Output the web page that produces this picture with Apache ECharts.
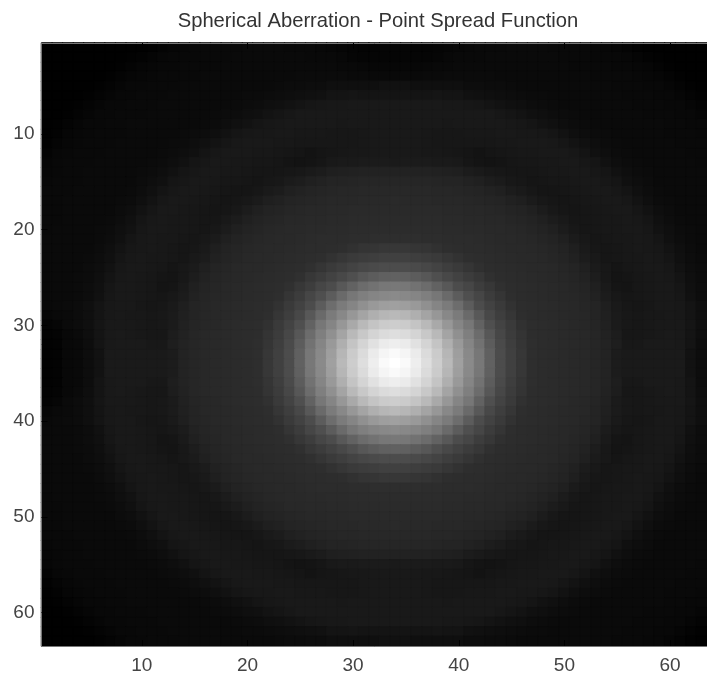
<!DOCTYPE html>
<html><head><meta charset="utf-8">
<style>html,body{margin:0;padding:0;background:#fff;overflow:hidden}#c{width:707px;height:684px}</style>
<script src="https://cdn.jsdelivr.net/npm/echarts@6/dist/echarts.min.js"></script>
</head><body><div id="c"></div>
<script>
const titleText = 'Spherical Aberration - Point Spread Function';
const tickValues = [10,20,30,40,50,60];
const cells = [1,2,3,4,5,6,7,8,9,10,11,12,13,14,15,16,17,18,19,20,21,22,23,24,25,26,27,28,29,30,31,32,33,34,35,36,37,38,39,40,41,42,43,44,45,46,47,48,49,50,51,52,53,54,55,56,57,58,59,60,61,62,63];
const peakCell = 34;
// Brightness, by cell offset from the peak (row = rows away, column = columns away)
const brightness = [
[255,250,238,222,205,185,160,138,120,97,76,64,55,46,44,43,42,41,40,38,35,28,26,26,26,26,26,26,18,13,9,8,3,2],
[250,245,235,219,203,182,158,137,119,96,76,64,55,46,44,43,42,41,40,38,35,28,26,26,26,26,26,26,18,13,9,8,3,2],
[238,235,225,212,196,175,153,133,114,92,74,62,53,46,44,43,42,41,40,38,35,30,24,24,26,26,26,25,20,13,9,8,3,2],
[222,219,212,200,185,164,144,127,108,87,71,60,52,45,44,43,42,41,40,38,34,29,23,23,24,25,26,25,20,14,10,8,4,3],
[205,203,196,185,169,151,133,119,98,79,67,58,49,45,44,43,42,40,39,37,33,27,24,23,24,25,25,25,21,15,12,10,6,4],
[185,182,175,164,151,136,123,106,88,72,62,54,46,44,43,42,41,40,39,36,32,27,24,23,24,24,25,24,20,15,12,10,9,7],
[160,158,153,144,133,123,109,92,76,66,58,50,45,44,43,42,41,40,38,36,31,26,23,22,23,25,25,24,20,15,12,11,10,9],
[138,136,133,127,119,106,92,79,70,60,53,46,44,43,42,41,40,39,37,34,28,24,22,23,24,25,25,23,17,13,11,10,10,10],
[120,119,114,108,98,88,76,70,61,55,48,45,44,43,42,41,40,38,36,32,26,21,20,23,24,25,25,22,16,13,11,10,10,10],
[97,96,92,87,79,72,66,60,55,48,45,44,43,42,41,40,39,37,34,29,24,20,21,23,24,25,24,20,15,12,11,10,10,10],
[76,76,74,71,67,62,58,53,48,45,44,43,42,41,41,40,38,36,32,27,24,21,23,24,25,25,23,18,14,12,10,10,10,10],
[64,64,62,60,58,54,50,46,45,44,43,42,41,41,40,38,36,33,28,25,22,23,24,24,25,24,21,16,13,11,10,10,10,10],
[55,55,53,52,49,46,45,44,44,43,42,41,41,40,39,37,35,31,26,23,22,23,24,25,24,23,19,15,12,10,10,10,10,10],
[46,46,46,45,45,44,44,44,43,42,41,41,40,39,37,35,32,27,24,22,23,24,24,25,24,21,16,13,11,10,10,10,10,10],
[44,44,44,44,44,43,43,42,42,41,41,40,39,37,35,32,28,24,22,23,24,24,25,25,23,18,15,12,11,10,10,10,10,9],
[43,43,43,43,43,42,42,41,41,40,40,38,37,35,32,28,25,22,22,23,24,24,25,24,21,16,13,11,10,10,10,10,9,9],
[42,42,42,42,42,41,41,40,40,39,38,36,35,32,28,24,22,21,22,23,24,25,25,22,18,14,12,10,10,10,10,10,9,9],
[42,41,41,41,40,40,40,39,38,37,36,33,31,27,24,22,21,22,23,24,25,25,23,19,15,12,11,10,10,10,10,10,9,9],
[40,40,40,40,39,39,38,37,36,34,32,28,26,23,21,21,22,23,24,25,25,23,20,16,13,11,10,10,10,10,10,9,9,9],
[38,38,38,38,37,36,36,34,32,29,27,24,23,21,22,23,23,24,25,25,23,21,16,14,12,10,10,10,10,10,9,9,9,8],
[34,34,34,34,33,32,31,28,26,24,23,22,22,22,23,24,24,25,25,23,21,17,14,12,11,10,10,10,10,10,9,9,8,7],
[26,27,27,27,26,26,25,22,20,19,20,22,23,23,24,24,25,25,23,21,17,14,12,11,10,10,10,10,10,9,9,9,8,6],
[25,25,25,24,24,23,22,21,19,21,22,23,24,24,25,25,25,23,20,16,14,12,11,10,10,10,10,10,9,9,9,8,7,4],
[25,25,25,24,23,23,23,23,23,23,24,24,25,25,25,24,22,19,16,14,12,11,10,10,10,10,10,9,9,9,8,7,5,2],
[25,25,25,24,23,23,23,24,24,24,25,25,24,24,23,21,18,15,13,12,11,10,10,10,10,10,9,9,9,8,7,6,3,1],
[25,25,25,25,25,24,25,25,25,25,25,24,23,21,18,16,14,12,11,10,10,10,10,10,10,10,9,9,8,8,6,4,2,1],
[25,25,25,25,25,25,25,25,25,25,23,21,19,16,15,13,12,11,10,10,10,10,10,10,9,9,9,8,8,6,4,2,1,1],
[25,25,25,25,25,24,24,23,22,20,18,16,15,13,12,11,10,10,10,10,10,10,10,9,9,9,8,8,6,4,2,1,1,1],
[20,20,20,20,21,20,20,17,16,15,14,13,12,11,11,10,10,10,10,10,10,10,9,9,9,8,8,6,4,2,1,1,1,1],
[17,17,15,15,15,15,15,13,13,12,12,11,10,10,10,10,10,10,10,10,10,9,9,9,8,8,6,4,2,1,1,1,1,1],
[9,9,9,10,10,11,11,11,11,11,10,10,10,10,10,10,10,10,10,9,9,9,9,8,7,6,4,2,1,1,1,1,1,1],
[7,7,7,8,9,9,10,10,10,10,10,10,10,10,10,10,10,9,9,9,9,8,8,7,6,4,2,1,1,1,1,1,1,1],
[5,5,5,5,6,8,9,9,9,10,10,10,10,10,10,10,9,9,9,8,8,8,7,5,3,2,1,1,1,1,1,1,1,1],
[5,5,4,4,5,6,7,8,9,9,9,10,10,10,10,9,9,9,9,8,7,6,4,2,1,1,1,1,1,1,1,1,1,1]
];
const gray = (v) => { const h = v.toString(16).padStart(2, '0'); return '#' + h + h + h; };
const heat = [];
cells.forEach((cy, yi) => cells.forEach((cx, xi) => {
  const v = brightness[Math.abs(cy - peakCell)][Math.abs(cx - peakCell)];
  heat.push({value:[xi, yi, v], itemStyle:{borderColor:gray(v), borderWidth:1}});
}));
const chart = echarts.init(document.getElementById('c'), null, {renderer:'canvas'});
const font = {fontFamily:'"Liberation Sans", Arial, sans-serif', color:'#444', fontSize:19};
const isTick = (i) => tickValues.includes(cells[i]);
const line = {show:true, lineStyle:{color:'#777', width:1}};
const tick = {show:true, inside:true, length:6, alignWithLabel:true, interval:isTick, lineStyle:{color:'#000', width:1}};
chart.setOption({
  animation:false,
  backgroundColor:'#fff',
  title:{text:titleText, left:373, top:6, textAlign:'center',
    textStyle:{fontFamily:font.fontFamily, fontWeight:'normal', fontSize:20.2, color:'#333'}},
  grid:{left:41.5, top:43, width:672.8, height:603, containLabel:false},
  xAxis:[
    {type:'category', data:cells, position:'bottom', z:5, axisLine:line, axisTick:tick, splitLine:{show:false},
     axisLabel:{...font, interval:isTick, margin:10}},
    {type:'category', data:cells, position:'top', z:5, axisLine:line, axisTick:tick, splitLine:{show:false}, axisLabel:{show:false}}
  ],
  yAxis:{type:'category', data:cells, inverse:true, z:5, axisLine:line, axisTick:tick, splitLine:{show:false},
     axisLabel:{...font, interval:isTick, margin:7}},
  visualMap:{show:false, min:0, max:255, dimension:2, seriesIndex:0, inRange:{color:['#000000','#ffffff']}},
  series:[{type:'heatmap', data:heat, xAxisIndex:0, yAxisIndex:0, progressive:0, silent:true, emphasis:{disabled:true}}]
});
</script></body></html>
